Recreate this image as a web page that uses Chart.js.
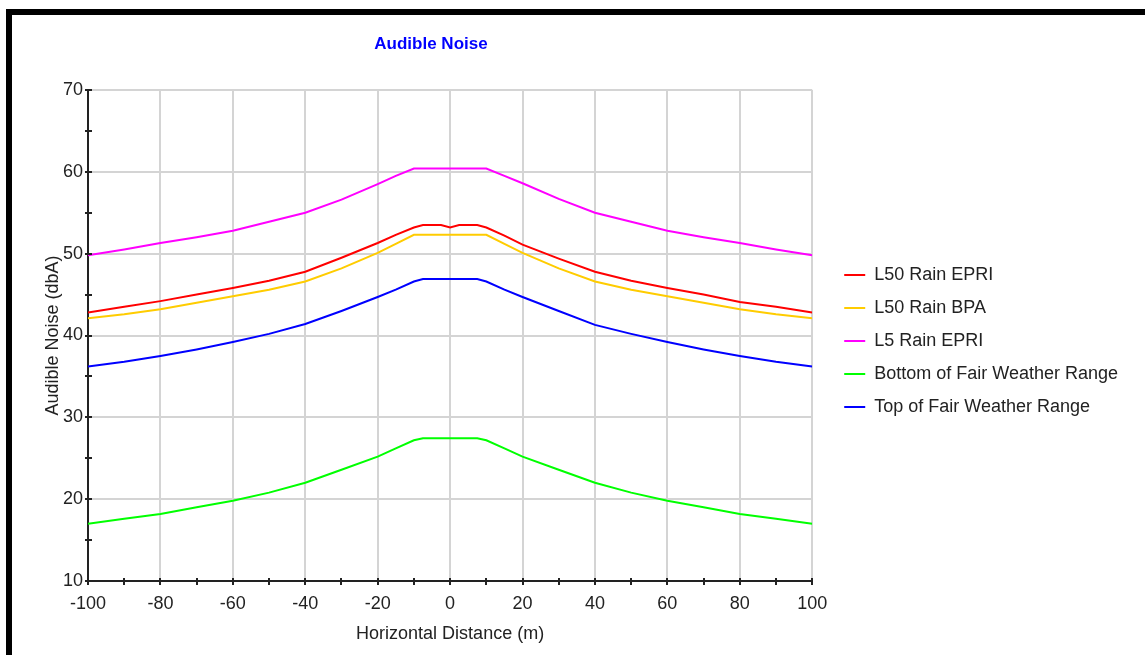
<!DOCTYPE html>
<html>
<head>
<meta charset="utf-8">
<script src="https://cdn.jsdelivr.net/npm/chart.js@4.4.0/dist/chart.umd.min.js"></script>
<style>
  html, body { margin: 0; padding: 0; background: #fff; }
  #wrap { position: relative; width: 1145px; height: 655px; overflow: hidden; background: #fff; }
  #c { position: absolute; left: 0; top: 0; }
  #title { position: absolute; left: 0; width: 862px; top: 34px; line-height: 20px; text-align: center;
           font: bold 17px 'Liberation Sans', Arial, sans-serif; color: #0000ff; }
  .bar { position: absolute; background: #000; }
</style>
</head>
<body>
<div id="wrap">
  <canvas id="c" width="1145" height="655"></canvas>
  <div id="title">Audible Noise</div>
  <div class="bar" style="left:6px;top:9px;width:1139px;height:6px;"></div>
  <div class="bar" style="left:6px;top:9px;width:6px;height:646px;"></div>
</div>
<script>
// ---- data ----
const distances = [-100, -90, -80, -70, -60, -50, -40, -30, -20, -15, -10, -7.5, -2.5, 0, 2.5, 7.5, 10, 15, 20, 30, 40, 50, 60, 70, 80, 90, 100];
const l50RainEPRI = [42.8, 43.5, 44.2, 45.0, 45.8, 46.7, 47.8, 49.5, 51.3, 52.3, 53.2, 53.5, 53.5, 53.2, 53.5, 53.5, 53.2, 52.2, 51.1, 49.4, 47.8, 46.7, 45.8, 45.0, 44.1, 43.5, 42.8];
const l50RainBPA  = [42.1, 42.6, 43.2, 44.0, 44.8, 45.6, 46.6, 48.2, 50.1, 51.2, 52.3, 52.3, 52.3, 52.3, 52.3, 52.3, 52.3, 51.2, 50.1, 48.2, 46.6, 45.6, 44.8, 44.0, 43.2, 42.6, 42.1];
const l5RainEPRI  = [49.8, 50.5, 51.3, 52.0, 52.8, 53.9, 55.0, 56.6, 58.5, 59.5, 60.4, 60.4, 60.4, 60.4, 60.4, 60.4, 60.4, 59.5, 58.6, 56.7, 55.0, 53.9, 52.8, 52.0, 51.3, 50.5, 49.8];
const bottomFair  = [17.0, 17.6, 18.2, 19.0, 19.8, 20.8, 22.0, 23.6, 25.2, 26.2, 27.2, 27.45, 27.45, 27.45, 27.45, 27.45, 27.2, 26.2, 25.2, 23.6, 22.0, 20.8, 19.8, 19.0, 18.2, 17.6, 17.0];
const topFair     = [36.2, 36.8, 37.5, 38.3, 39.2, 40.2, 41.4, 43.0, 44.7, 45.6, 46.6, 46.9, 46.9, 46.9, 46.9, 46.9, 46.6, 45.6, 44.7, 43.0, 41.3, 40.2, 39.2, 38.3, 37.5, 36.8, 36.2];
const seriesNames = ['L50 Rain EPRI', 'L50 Rain BPA', 'L5 Rain EPRI', 'Bottom of Fair Weather Range', 'Top of Fair Weather Range'];
const xTickMarks = [-100, -90, -80, -70, -60, -50, -40, -30, -20, -10, 0, 10, 20, 30, 40, 50, 60, 70, 80, 90, 100];
const yTickMarks = [10, 15, 20, 25, 30, 35, 40, 45, 50, 55, 60, 65, 70];

const FONT = "'Liberation Sans', Arial, sans-serif";
const colors = ['#ff0000', '#ffcc00', '#ff00ff', '#00ff00', '#0000ff'];
const seriesData = [l50RainEPRI, l50RainBPA, l5RainEPRI, bottomFair, topFair];

const datasets = seriesData.map((vals, i) => ({
  label: seriesNames[i],
  data: distances.map((d, j) => ({ x: d, y: vals[j] })),
  borderColor: colors[i],
  backgroundColor: colors[i],
  borderWidth: 2,
  pointRadius: 0,
  tension: 0,
  fill: false
}));

const tickMarks = {
  id: 'tickMarks',
  afterDraw(chart) {
    const { ctx, scales: { x, y } } = chart;
    ctx.save();
    ctx.strokeStyle = '#222';
    ctx.lineWidth = 2;
    xTickMarks.forEach(v => {
      const p = Math.round(x.getPixelForValue(v));
      ctx.beginPath(); ctx.moveTo(p, y.bottom - 3); ctx.lineTo(p, y.bottom + 4); ctx.stroke();
    });
    yTickMarks.forEach(v => {
      const p = Math.round(y.getPixelForValue(v));
      ctx.beginPath(); ctx.moveTo(x.left - 3, p); ctx.lineTo(x.left + 4, p); ctx.stroke();
    });
    ctx.restore();
  }
};

new Chart(document.getElementById('c'), {
  type: 'line',
  data: { datasets },
  plugins: [tickMarks],
  options: {
    responsive: false,
    animation: false,
    devicePixelRatio: 1,
    layout: { padding: { top: 90, right: 17, bottom: 0, left: 0 } },
    plugins: {
      title: { display: false },
      tooltip: { enabled: false },
      legend: {
        position: 'right',
        align: 'center',
        fullSize: false,
        maxWidth: 400,
        title: { display: true, text: ' ', font: { size: 11, lineHeight: 1 }, padding: 0 },
        labels: {
          boxWidth: 21,
          boxHeight: 2,
          padding: 15,
          color: '#222',
          font: { family: FONT, size: 18 },
          generateLabels(chart) {
            const items = Chart.defaults.plugins.legend.labels.generateLabels(chart);
            items.forEach(it => { it.lineWidth = 0; });
            return items;
          }
        }
      }
    },
    scales: {
      x: {
        type: 'linear',
        min: -100, max: 100,
        ticks: { stepSize: 20, padding: 12, color: '#222', font: { family: FONT, size: 18 }, maxRotation: 0 },
        grid: { color: '#d4d4d4', lineWidth: 2, drawTicks: false },
        border: { color: '#222', width: 2 },
        title: { display: true, text: 'Horizontal Distance (m)', color: '#222', font: { family: FONT, size: 18 }, padding: { top: 0, bottom: 10 } },
        afterFit(s) { s.height = 74; }
      },
      y: {
        type: 'linear',
        min: 10, max: 70,
        ticks: { stepSize: 10, padding: 5, color: '#222', font: { family: FONT, size: 18 } },
        grid: { color: '#d4d4d4', lineWidth: 2, drawTicks: false },
        border: { color: '#222', width: 2 },
        title: { display: true, text: 'Audible Noise (dbA)', color: '#222', font: { family: FONT, size: 18 }, padding: { top: 42, bottom: 0 } },
        afterFit(s) { s.width = 88; }
      },
      gap: {
        type: 'linear',
        position: 'right',
        display: true,
        ticks: { display: false },
        grid: { display: false, drawTicks: false },
        border: { display: false },
        title: { display: false },
        afterFit(s) { s.width = 17; }
      }
    }
  }
});
</script>
</body>
</html>
